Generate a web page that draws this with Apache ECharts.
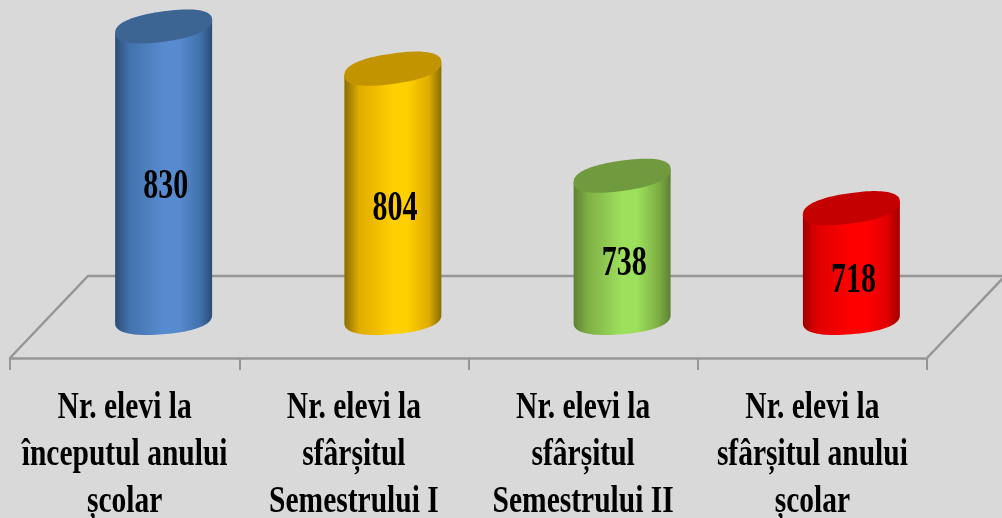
<!DOCTYPE html>
<html>
<head>
<meta charset="utf-8">
<style>html,body{margin:0;padding:0;background:#d9d9d9}#c{width:1002px;height:518px;filter:blur(0.5px)}</style>
<script src="https://cdn.jsdelivr.net/npm/echarts@6/dist/echarts.min.js"></script>
</head>
<body>
<div id="c"></div>
<script>
const categories = ["Nr. elevi la\nînceputul anului\nșcolar", "Nr. elevi la\nsfârșitul\nSemestrului I", "Nr. elevi la\nsfârșitul\nSemestrului II", "Nr. elevi la\nsfârșitul anului\nșcolar"];
const values = [830, 804, 738, 718];
const bodyEdge = ["#2c4d75", "#8a6c00", "#5c8232", "#a00000"];
const bodyMid = ["#4273ad", "#e0ac00", "#7fb045", "#e00000"];
const bodyLight = ["#578bcf", "#ffcf00", "#9de05c", "#ff0000"];
const topFill = ["#3c6594", "#c29400", "#6f9a3d", "#c40000"];

const depthX = 78, depthY = 82;
const fontFamily = '"Liberation Serif","Times New Roman",serif';

function spow(v) { return Math.sign(v) * Math.pow(Math.abs(v), 0.85); }
function ellipsePt(cx, cy, rx, t, shear) {
  const c = spow(Math.cos(t)), s = spow(Math.sin(t));
  return [cx + rx * c, cy - shear * c + 15.2 * s];
}
function ellipsePoly(cx, cy, rx) {
  const pts = [];
  for (let i = 0; i < 96; i++) pts.push(ellipsePt(cx, cy, rx, i / 96 * 2 * Math.PI, 6.5));
  return pts;
}
function renderFloor(params, api) {
  const g = params.coordSys;
  const x0 = g.x, x1 = g.x + g.width, y = g.y + g.height;
  const line = { stroke: "#969696", lineWidth: 2.5, fill: null };
  return {
    type: "group", silent: true,
    children: [
      { type: "polyline", shape: { points: [[x0, y], [x0 + depthX, y - depthY], [1002, y - depthY]] }, style: line },
      { type: "line", shape: { x1: x1, y1: y, x2: x1 + depthX, y2: y - depthY }, style: line }
    ]
  };
}
function renderCyl(params, api) {
  const i = params.dataIndex;
  const front = api.coord([api.value(0), 650]);
  const top = api.coord([api.value(0), api.value(1)]);
  const rx = api.size([1, 0])[0] * 0.2115;
  const cx = front[0] + depthX / 2;
  const by = front[1] - depthY / 2 + 2;
  const ty = top[1] - depthY / 2 + 1.5;
  const lower = [];
  for (let k = 0; k <= 48; k++) lower.push(ellipsePt(cx, by, rx, Math.PI - k / 48 * Math.PI, 4));
  const body = [ellipsePt(cx, ty, rx, Math.PI, 6.5)].concat(lower, [ellipsePt(cx, ty, rx, 0, 6.5)]);
  const grad = {
    type: "linear", x: 0, y: 0, x2: 1, y2: 0,
    colorStops: [
      { offset: 0, color: bodyEdge[i] },
      { offset: 0.15, color: bodyMid[i] },
      { offset: 0.5, color: bodyLight[i] },
      { offset: 0.65, color: bodyLight[i] },
      { offset: 0.87, color: bodyMid[i] },
      { offset: 1, color: bodyEdge[i] }
    ]
  };
  const labelY = ty + (by - ty) * 0.48 + 20;
  return {
    type: "group",
    children: [
      { type: "polygon", shape: { points: body }, style: { fill: grad } },
      { type: "polygon", shape: { points: ellipsePoly(cx, ty, rx) }, style: { fill: topFill[i] } },
      { type: "text", x: cx + 2, y: labelY, scaleY: 1.4,
        style: { text: String(api.value(1)), font: "bold 30px " + fontFamily, fill: "#000", align: "center", verticalAlign: "middle" } },
      { type: "text", x: front[0], y: front[1] + 27, scaleY: 1.3,
        style: { text: categories[i], font: "bold 29.5px " + fontFamily, lineHeight: 36, fill: "#000", align: "center", verticalAlign: "top" } }
    ]
  };
}
const chart = echarts.init(document.getElementById("c"), null, { renderer: "canvas" });
chart.setOption({
  animation: false,
  backgroundColor: "#d9d9d9",
  grid: { left: 10, right: 75, top: 66, bottom: 160 },
  xAxis: {
    type: "category", data: categories, boundaryGap: true,
    axisLine: { lineStyle: { color: "#969696", width: 2.5 } },
    axisTick: { show: true, length: 12, lineStyle: { color: "#969696", width: 2 } },
    axisLabel: { show: false }
  },
  yAxis: { type: "value", min: 650, max: 830, show: false, splitLine: { show: false } },
  series: [
    { type: "custom", z: 1, silent: true, renderItem: renderFloor, data: [[0, 650]], encode: { x: 0, y: 1 } },
    { type: "custom", z: 2, silent: true, renderItem: renderCyl, clip: false,
      data: values.map((v, i) => [i, v]), encode: { x: 0, y: 1 } }
  ]
});
</script>
</body>
</html>
